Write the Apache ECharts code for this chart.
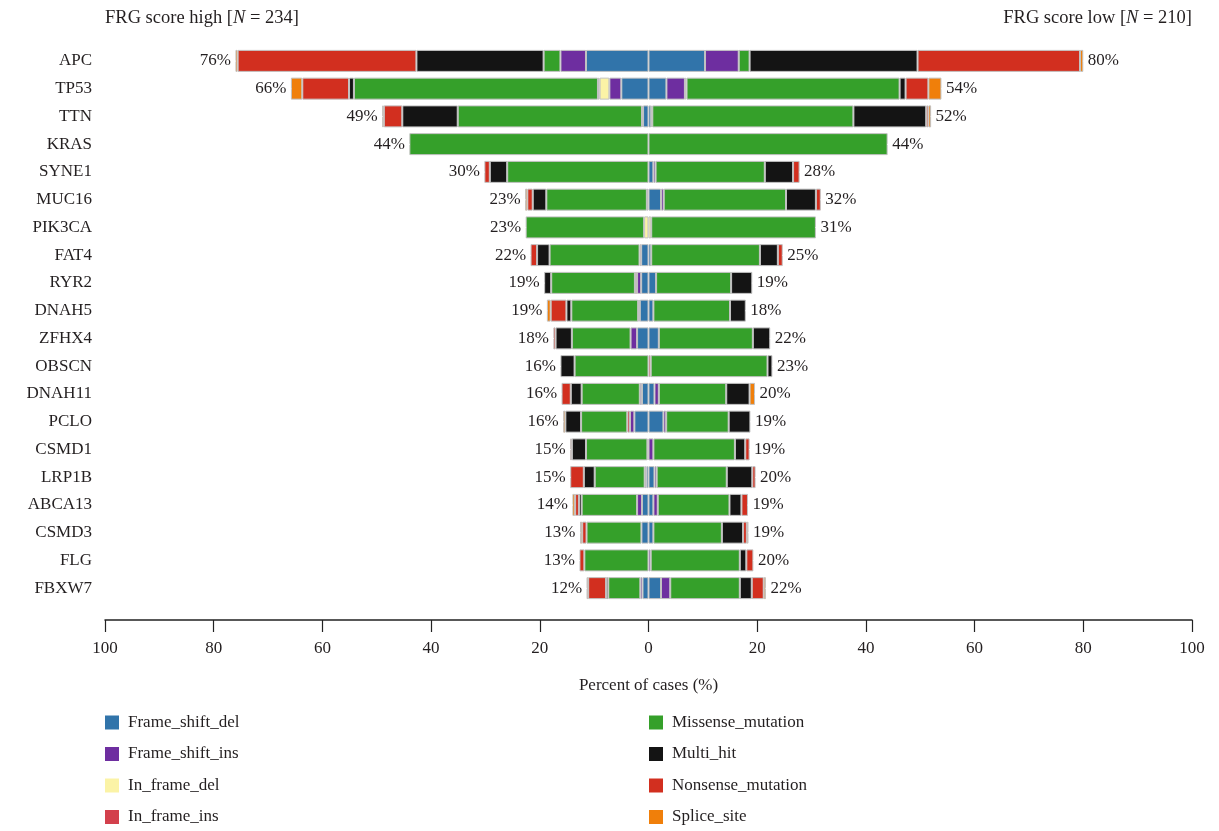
<!DOCTYPE html>
<html>
<head>
<meta charset="utf-8">
<script src="https://cdn.jsdelivr.net/npm/echarts@6/dist/echarts.min.js"></script>
<style>html,body{margin:0;padding:0;background:#fff}#c{width:1219px;height:831px}</style>
</head>
<body>
<div id="c"></div>
<script>
const genes = ['APC','TP53','TTN','KRAS','SYNE1','MUC16','PIK3CA','FAT4','RYR2','DNAH5','ZFHX4','OBSCN','DNAH11','PCLO','CSMD1','LRP1B','ABCA13','CSMD3','FLG','FBXW7'];
const highPct = [76,66,49,44,30,23,23,22,19,19,18,16,16,16,15,15,14,13,13,12];
const lowPct  = [80,54,52,44,28,32,31,25,19,18,22,23,20,19,19,20,19,19,20,22];
const xTicks = [-100,-80,-60,-40,-20,0,20,40,60,80,100];

const classes = ['Frame_shift_del','Frame_shift_ins','In_frame_del','In_frame_ins','Missense_mutation','Multi_hit','Nonsense_mutation','Splice_site'];
const classColors = ['#3174aa','#6e2ea0','#fbf3a6','#d3404c','#35a02a','#141414','#d22f1f','#f07f0a'];

// FRG score high (left side), percent of cases per class
const highFrameShiftDel = [11.5,5.0,1.0,0,0,0,0,1.35,1.35,1.6,2.1,0,1.2,2.6,0,0.4,1.2,1.3,0,1.1];
const highFrameShiftIns = [4.7,2.2,0.2,0,0,0.3,0,0,0.75,0.3,1.2,0,0.4,0.8,0,0.3,0.9,0,0,0.4];
const highInFrameDel    = [0,1.8,0,0,0,0,0.8,0,0,0,0,0,0,0,0,0,0,0,0,0];
const highInFrameIns    = [0,0.3,0,0,0,0,0,0.3,0.4,0,0,0,0,0.5,0.2,0,0,0,0,0];
const highMissense      = [3.1,44.9,33.9,44.0,26.0,18.5,21.8,16.55,15.4,12.3,10.8,13.6,10.7,8.5,11.3,9.2,10.2,10.1,11.8,5.9];
const highMultiHit      = [23.4,0.9,10.2,0,3.2,2.5,0,2.3,1.3,0.9,3.0,2.6,2.0,2.9,2.6,2.0,0.5,0,0,0.4];
const highNonsense      = [32.9,8.6,3.4,0,1.0,1.0,0,1.2,0,2.9,0.4,0,1.7,0,0.3,2.5,0.7,0.8,0.9,3.3];
const highSplice        = [0.4,2.1,0.3,0,0,0.4,0,0,0,0.7,0,0,0,0.4,0,0,0.5,0.4,0,0.3];

// FRG score low (right side)
const lowFrameShiftDel = [10.4,3.3,0.5,0,0.9,2.3,0,0.5,1.4,0.9,1.9,0,1.1,2.75,0,1.1,0.9,0.9,0,2.3];
const lowFrameShiftIns = [6.2,3.4,0.2,0,0.4,0.5,0,0,0,0,0,0,0.8,0.5,0.9,0.4,0.8,0,0.4,1.7];
const lowInFrameDel    = [0,0.3,0,0,0,0,0.5,0,0,0,0,0,0,0,0,0,0,0,0,0];
const lowInFrameIns    = [0,0,0,0,0,0,0,0,0,0,0,0.4,0,0,0,0,0,0,0,0];
const lowMissense      = [2.0,39.2,37.0,44.0,20.1,22.5,30.3,20.0,13.8,14.1,17.3,21.5,12.4,11.5,15.0,12.9,13.2,12.6,16.4,12.8];
const lowMultiHit      = [30.9,1.1,13.4,0,5.2,5.5,0,3.3,3.9,2.9,3.2,0.9,4.3,4.0,1.9,4.7,2.2,3.9,1.2,2.2];
const lowNonsense      = [29.9,4.2,0.4,0,1.2,0.9,0,0.9,0,0,0,0,0,0,0.8,0.6,1.2,0.7,1.3,2.2];
const lowSplice        = [0.6,2.4,0.5,0,0,0,0,0,0,0,0,0,1.0,0,0,0,0,0.3,0,0.4];

const highData = [highFrameShiftDel,highFrameShiftIns,highInFrameDel,highInFrameIns,highMissense,highMultiHit,highNonsense,highSplice];
const lowData  = [lowFrameShiftDel,lowFrameShiftIns,lowInFrameDel,lowInFrameIns,lowMissense,lowMultiHit,lowNonsense,lowSplice];

const FONT = '"Liberation Serif", "DejaVu Serif", serif';
const TXT = '#231f20';

const series = [];
classes.forEach((name, k) => {
  const common = {
    name, type: 'bar', stack: 'total', barWidth: 22,
    itemStyle: { color: classColors[k], borderColor: '#c2c2c2', borderWidth: 1 },
    emphasis: { disabled: true }
  };
  series.push(Object.assign({}, common, { data: highData[k].map(v => v ? -v : null) }));
  series.push(Object.assign({}, common, { data: lowData[k].map(v => v ? v : null) }));
});

const highEnd = genes.map((g, i) => highData.reduce((s, a) => s + a[i], 0));
const lowEnd  = genes.map((g, i) => lowData.reduce((s, a) => s + a[i], 0));

const pctLabel = (pos, arr) => ({
  show: true, position: pos, distance: 4, color: TXT, opacity: 1,
  fontFamily: FONT, fontSize: 17, textBorderWidth: 0,
  formatter: p => arr[p.dataIndex] + '%'
});

series.push({
  type: 'scatter', symbolSize: 1, itemStyle: { color: '#ffffff', opacity: 1 }, silent: true, z: 5,
  emphasis: { disabled: true },
  data: genes.map((g, i) => [-highEnd[i], g]),
  label: pctLabel('left', highPct)
});
series.push({
  type: 'scatter', symbolSize: 1, itemStyle: { color: '#ffffff', opacity: 1 }, silent: true, z: 5,
  emphasis: { disabled: true },
  data: genes.map((g, i) => [lowEnd[i], g]),
  label: pctLabel('right', lowPct)
});

const legendCommon = {
  orient: 'vertical', icon: 'rect', itemWidth: 14, itemHeight: 14, itemGap: 14.5,
  padding: 0, height: 200,
  itemStyle: { borderWidth: 0 },
  textStyle: { fontFamily: FONT, fontSize: 17, color: TXT, padding: [0, 0, 0, 4] },
  selectedMode: false
};

const titleStyle = { fontFamily: FONT, fontSize: 18.5, fontWeight: 'normal', color: TXT,
  rich: { i: { fontFamily: FONT, fontSize: 18.5, fontStyle: 'italic', color: TXT } } };

const option = {
  animation: false,
  backgroundColor: '#fff',
  textStyle: { fontFamily: FONT },
  title: [
    { text: 'FRG score high [{i|N} = 234]', left: 105, top: 9, padding: 0, textStyle: titleStyle },
    { text: 'FRG score low [{i|N} = 210]', right: 27, top: 9, padding: 0, textStyle: titleStyle }
  ],
  legend: [
    Object.assign({}, legendCommon, { left: 105, top: 714, data: classes.slice(0, 4) }),
    Object.assign({}, legendCommon, { left: 649, top: 714, data: classes.slice(4) })
  ],
  grid: { left: 105, right: 27, top: 47, bottom: 229 },
  xAxis: {
    type: 'value', min: -100, max: 100, interval: 20, offset: 18,
    name: 'Percent of cases (%)', nameLocation: 'middle', nameGap: 57,
    nameTextStyle: { fontFamily: FONT, fontSize: 17, color: TXT },
    axisLine: { show: true, lineStyle: { color: '#222', width: 1.5 } },
    axisTick: { show: true, length: 12, lineStyle: { color: '#222', width: 1.2 } },
    axisLabel: { fontFamily: FONT, fontSize: 17, color: TXT, margin: 20,
      formatter: v => xTicks.indexOf(v) >= 0 ? String(Math.abs(v)) : '' },
    splitLine: { show: false }
  },
  yAxis: {
    type: 'category', data: genes, inverse: true,
    axisLine: { show: false }, axisTick: { show: false },
    axisLabel: { fontFamily: FONT, fontSize: 17, color: TXT, margin: 13 }
  },
  series
};

const chart = echarts.init(document.getElementById('c'), null, { renderer: 'canvas' });
chart.setOption(option);
</script>
</body>
</html>
